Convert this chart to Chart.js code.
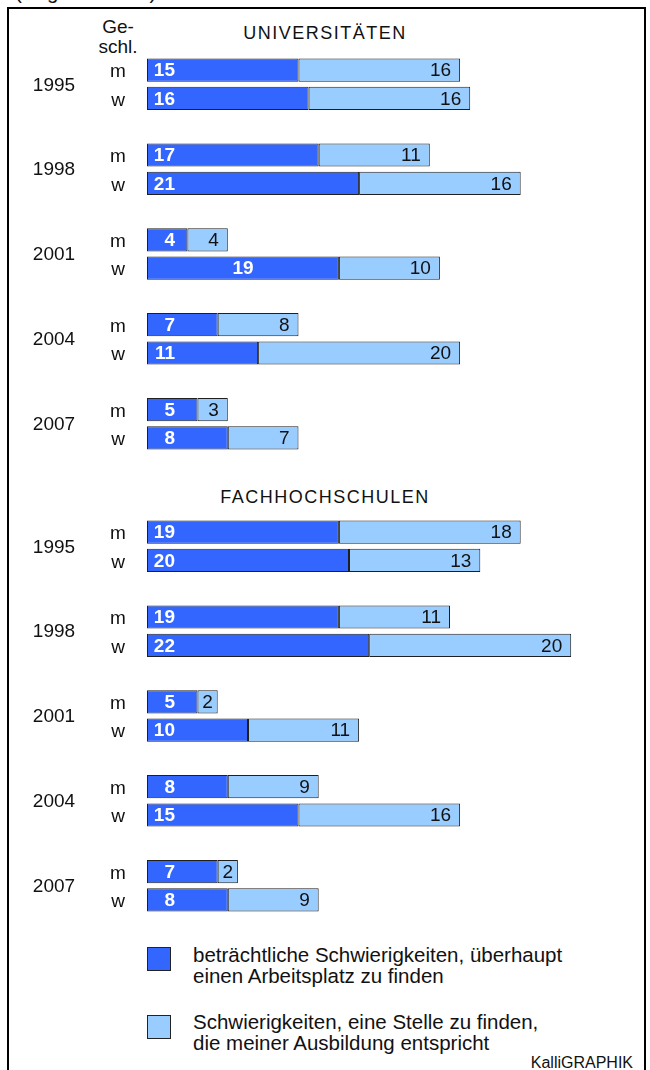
<!DOCTYPE html>
<html>
<head>
<meta charset="utf-8">
<script src="https://cdn.jsdelivr.net/npm/chart.js@4"></script>
<style>
  body { margin: 0; width: 650px; height: 1070px; overflow: hidden; background: #fff;
         font-family: "Liberation Sans", Arial, sans-serif; color: #111; position: relative; }
  .frame { position: absolute; left: 7px; top: 7px; width: 639px; height: 1100px;
           border: 2px solid #000; box-sizing: border-box; }
  .abs { position: absolute; }
  .titel { left: 0; width: 650px; text-align: center; font-size: 18px; letter-spacing: 1.5px; line-height: 20px; }
  .box { width: 22px; height: 22px; border: 1px solid #222; }
  .legtext { left: 193px; font-size: 20.5px; line-height: 20.5px; }
  canvas { position: absolute; left: 0; }
</style>
</head>
<body>
<div class="abs" style="left:15px; top:-19px; font-size:20.5px; line-height:21px;">(Angaben in %)</div>
<div class="frame"></div>
<div class="abs" style="left:88px; width:60px; top:17px; text-align:center; font-size:19px; line-height:20px;">Ge-<br>schl.</div>
<div class="abs titel" style="top:23px;">UNIVERSITÄTEN</div>
<div class="abs titel" style="top:487px;">FACHHOCHSCHULEN</div>

<canvas id="graficaUni" width="650" height="396" style="top:56px;"></canvas>
<canvas id="graficaFH" width="650" height="396" style="top:518px;"></canvas>

<div class="abs box" id="boxDunkel" style="left:147px; top:947px;"></div>
<div class="abs legtext" id="txtDunkel" style="top:945px;"></div>
<div class="abs box" id="boxHell" style="left:147px; top:1015px;"></div>
<div class="abs legtext" id="txtHell" style="top:1012px;"></div>
<div class="abs" style="right:17px; top:1054px; font-size:16px;">KalliGRAPHIK</div>

<script>
// Daten (in %)
const jahre = ['1995', '1998', '2001', '2004', '2007'];
const geschlecht = ['m', 'w'];

// Universitäten: je Jahr m, w
const uniBetraechtlich = [15, 16, 17, 21, 4, 19, 7, 11, 5, 8];
const uniStelle = [16, 16, 11, 16, 4, 10, 8, 20, 3, 7];

// Fachhochschulen: je Jahr m, w
const fhBetraechtlich = [19, 20, 19, 22, 5, 10, 8, 15, 7, 8];
const fhStelle = [18, 13, 11, 20, 2, 11, 9, 16, 2, 9];

const legendeTexte = [
  'beträchtliche Schwierigkeiten, überhaupt<br>einen Arbeitsplatz zu finden',
  'Schwierigkeiten, eine Stelle zu finden,<br>die meiner Ausbildung entspricht'
];

const FARBE_DUNKEL = '#3366ff';
const FARBE_HELL = '#99ccff';
const RAND = '#1f1f1f';

document.getElementById('boxDunkel').style.background = FARBE_DUNKEL;
document.getElementById('boxHell').style.background = FARBE_HELL;
document.getElementById('txtDunkel').innerHTML = legendeTexte[0];
document.getElementById('txtHell').innerHTML = legendeTexte[1];

// Zeilen mit Leerzeile zwischen den Jahren aufbauen
function zeilen(werte) {
  const out = [];
  jahre.forEach((j, i) => {
    out.push(werte[i * 2], werte[i * 2 + 1]);
    if (i < jahre.length - 1) out.push(null);
  });
  return out;
}
const zeilenLabels = zeilen(jahre.flatMap(() => geschlecht));

// Beschriftungen links und Werte in den Balken
const beschriftung = {
  id: 'beschriftung',
  afterDraw(chart) {
    const ctx = chart.ctx;
    const y = chart.scales.y;
    const ausnahmen = chart.options.mitteZentriert || [];
    ctx.save();
    ctx.textBaseline = 'middle';

    // m / w und Jahre
    ctx.fillStyle = '#111';
    ctx.font = '19px "Liberation Sans", Arial';
    ctx.textAlign = 'center';
    zeilenLabels.forEach((lab, i) => {
      if (lab) ctx.fillText(lab, 118, y.getPixelForValue(i) + 2);
    });
    jahre.forEach((j, k) => {
      const mitte = (y.getPixelForValue(k * 3) + y.getPixelForValue(k * 3 + 1)) / 2;
      ctx.fillText(j, 54, mitte + 1);
    });

    // Werte dunkle Balken
    const dunkel = chart.data.datasets[0].data;
    chart.getDatasetMeta(0).data.forEach((bar, i) => {
      const v = dunkel[i];
      if (v == null) return;
      const p = bar.getProps(['x', 'base', 'y'], true);
      ctx.fillStyle = '#fff';
      ctx.font = 'bold 19px "Liberation Sans", Arial';
      if (ausnahmen.includes(i)) {
        ctx.textAlign = 'center';
        ctx.fillText(v, (p.x + p.base) / 2, p.y + 1);
      } else {
        ctx.textAlign = 'right';
        ctx.fillText(v, p.base + 28, p.y + 1);
      }
    });

    // Werte helle Balken
    const hell = chart.data.datasets[1].data;
    chart.getDatasetMeta(1).data.forEach((bar, i) => {
      const v = hell[i];
      if (v == null) return;
      const p = bar.getProps(['x', 'base', 'y'], true);
      ctx.fillStyle = '#111';
      ctx.font = '19px "Liberation Sans", Arial';
      const breite = p.x - p.base;
      if (breite < 28) {
        ctx.textAlign = 'center';
        ctx.fillText(v, (p.x + p.base) / 2, p.y + 1);
      } else {
        ctx.textAlign = 'right';
        ctx.fillText(v, p.x - 9, p.y + 1);
      }
    });
    ctx.restore();
  }
};

function grafik(id, dunkel, hell, zentriert) {
  const ctx = document.getElementById(id).getContext('2d');
  return new Chart(ctx, {
    type: 'bar',
    data: {
      labels: zeilenLabels,
      datasets: [
        { data: zeilen(dunkel), backgroundColor: FARBE_DUNKEL },
        { data: zeilen(hell), backgroundColor: FARBE_HELL }
      ]
    },
    options: {
      indexAxis: 'y',
      responsive: false,
      animation: false,
      mitteZentriert: zentriert,
      layout: { padding: { left: 147, right: 48.5, top: 0, bottom: 0 } },
      datasets: {
        bar: {
          borderColor: RAND,
          borderWidth: 1,
          borderSkipped: false,
          barPercentage: 0.82,
          categoryPercentage: 1
        }
      },
      scales: {
        x: { stacked: true, min: 0, max: 45, display: false },
        y: { stacked: true, display: false }
      },
      plugins: { legend: { display: false }, tooltip: { enabled: false } }
    },
    plugins: [beschriftung]
  });
}

// Index 7 = 2001 w (mit Leerzeilen gezählt)
grafik('graficaUni', uniBetraechtlich, uniStelle, [7]);
grafik('graficaFH', fhBetraechtlich, fhStelle, []);
</script>
</body>
</html>
